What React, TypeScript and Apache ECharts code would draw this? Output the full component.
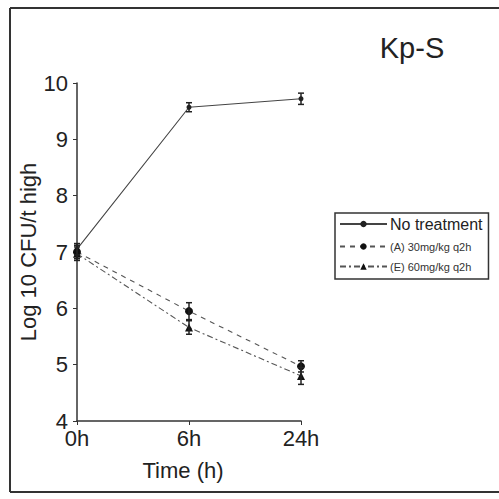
import React, { useEffect, useRef } from "react";
import * as echarts from "echarts";

const categories = ["0h", "6h", "24h"];
const noTreatment = [7.05, 9.57, 9.72];
const noTreatmentErr = [0.1, 0.08, 0.1];
const seriesA = [7.0, 5.95, 4.97];
const seriesAErr = [0.12, 0.15, 0.1];
const seriesB = [6.97, 5.66, 4.8];
const seriesBErr = [0.12, 0.12, 0.15];
const yTicks = { min: 4, max: 10, interval: 1 };
const seriesNames = ["No treatment", "(A) 30mg/kg q2h", "(E) 60mg/kg q2h"];

const FONT = "Liberation Sans, Arial, sans-serif";

function errData(vals: number[], errs: number[]) {
  return vals.map((v, i) => [i, v - errs[i], v + errs[i]]);
}

function errSeries(vals: number[], errs: number[]) {
  return {
    type: "custom",
    silent: true,
    z: 5,
    data: errData(vals, errs),
    renderItem: (params: any, api: any) => {
      const x = api.value(0);
      const lo = api.coord([x, api.value(1)]);
      const hi = api.coord([x, api.value(2)]);
      const w = 3;
      const style = { stroke: "#222", lineWidth: 1.5 };
      return {
        type: "group",
        children: [
          { type: "line", shape: { x1: lo[0], y1: lo[1], x2: hi[0], y2: hi[1] }, style },
          { type: "line", shape: { x1: lo[0] - w, y1: lo[1], x2: lo[0] + w, y2: lo[1] }, style },
          { type: "line", shape: { x1: hi[0] - w, y1: hi[1], x2: hi[0] + w, y2: hi[1] }, style },
        ],
      };
    },
  };
}

const frameStyle = { stroke: "#333", lineWidth: 2 };

export default function App() {
  const ref = useRef<HTMLDivElement>(null);
  useEffect(() => {
    const chart = echarts.init(ref.current!, null, { renderer: "svg" });
    chart.setOption({
      animation: false,
      backgroundColor: "#fff",
      title: {
        text: "Kp-S",
        left: 407,
        top: 28,
        textAlign: "center",
        textStyle: { fontFamily: FONT, fontSize: 29, fontWeight: "normal", color: "#222" },
      },
      graphic: [
        { type: "line", z: 100, silent: true, shape: { x1: 10, y1: 8, x2: 499, y2: 8 }, style: frameStyle },
        { type: "line", z: 100, silent: true, shape: { x1: 10, y1: 8, x2: 10, y2: 492 }, style: frameStyle },
        { type: "line", z: 100, silent: true, shape: { x1: 10, y1: 492, x2: 499, y2: 492 }, style: frameStyle },
      ],
      legend: {
        data: seriesNames,
        orient: "vertical",
        left: 335,
        top: 213,
        width: 162,
        backgroundColor: "#fff",
        borderColor: "#333",
        borderWidth: 1.5,
        borderRadius: 0,
        padding: [3, 6, 7, 4],
        itemWidth: 47,
        itemHeight: 8,
        itemGap: 9,
        formatter: (name: string) =>
          name === "No treatment" ? `{a|${name}}` : `{b|${name}}`,
        textStyle: {
          fontFamily: FONT,
          color: "#222",
          padding: [0, 0, 0, -2],
          rich: {
            a: { fontSize: 16, lineHeight: 18, fontFamily: FONT, color: "#222" },
            b: { fontSize: 11, lineHeight: 14, fontFamily: FONT, color: "#333" },
          },
        },
      },
      grid: { left: 77, right: 198, top: 83, bottom: 78 },
      xAxis: {
        type: "category",
        data: categories,
        boundaryGap: false,
        name: "Time (h)",
        nameLocation: "middle",
        nameGap: 38,
        nameTextStyle: { fontFamily: FONT, fontSize: 22, color: "#222", padding: [0, 12, 0, 0] },
        axisLine: { lineStyle: { color: "#333", width: 1.5 } },
        axisTick: { show: true, length: 4, alignWithLabel: true, lineStyle: { color: "#333" } },
        axisLabel: { fontFamily: FONT, fontSize: 22, color: "#222", margin: 6 },
      },
      yAxis: {
        type: "value",
        min: yTicks.min,
        max: yTicks.max,
        interval: yTicks.interval,
        name: "Log 10 CFU/t high",
        nameLocation: "middle",
        nameGap: 34,
        nameTextStyle: { fontFamily: FONT, fontSize: 22, color: "#222" },
        splitLine: { show: false },
        axisLine: { show: true, lineStyle: { color: "#333", width: 1.5 } },
        axisTick: { show: true, length: 4, lineStyle: { color: "#333" } },
        axisLabel: { fontFamily: FONT, fontSize: 22, color: "#222", margin: 9 },
      },
      series: [
        {
          name: seriesNames[0],
          type: "line",
          data: noTreatment,
          symbol: "circle",
          symbolSize: 5,
          z: 4,
          itemStyle: { color: "#222" },
          lineStyle: { color: "#444", width: 1.1, type: "solid" },
        },
        {
          name: seriesNames[1],
          type: "line",
          data: seriesA,
          symbol: "circle",
          symbolSize: 8,
          z: 4,
          itemStyle: { color: "#111" },
          lineStyle: { color: "#555", width: 1.1, type: [5, 5] },
        },
        {
          name: seriesNames[2],
          type: "line",
          data: seriesB,
          symbol: "triangle",
          symbolSize: 8,
          z: 4,
          itemStyle: { color: "#111" },
          lineStyle: { color: "#555", width: 1.1, type: [6, 3, 2, 3] },
        },
        errSeries(noTreatment, noTreatmentErr),
        errSeries(seriesA, seriesAErr),
        errSeries(seriesB, seriesBErr),
      ],
    });
    return () => chart.dispose();
  }, []);
  return (
    <div
      ref={ref}
      style={{ position: "absolute", left: 0, top: 0, width: 499, height: 499 }}
    />
  );
}
